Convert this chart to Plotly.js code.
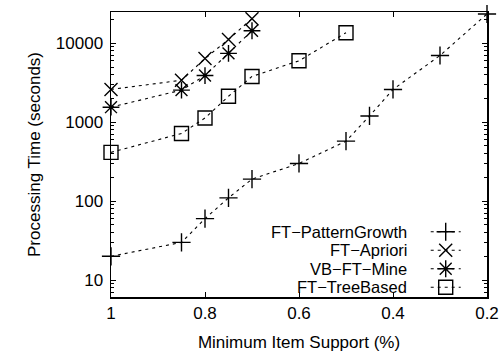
<!DOCTYPE html>
<html>
<head>
<meta charset="utf-8">
<script src="https://cdn.plot.ly/plotly-3.0.1.min.js"></script>
<style>html,body{margin:0;padding:0;background:#fff;}#chart{width:504px;height:353px;}</style>
</head>
<body>
<div id="chart"></div>
<script>
// Data
const seriesNames = ["FT\u2212PatternGrowth", "FT\u2212Apriori", "VB\u2212FT\u2212Mine", "FT\u2212TreeBased"];
const pgSupport = [1, 0.85, 0.8, 0.75, 0.7, 0.6, 0.5, 0.45, 0.4, 0.3, 0.2];
const patternGrowth = [20, 30, 60, 110, 190, 300, 575, 1200, 2600, 7000, 23500];
const apSupport = [1, 0.85, 0.8, 0.75, 0.7];
const apriori = [2600, 3400, 6400, 11200, 20500];
const vbSupport = [1, 0.85, 0.8, 0.75, 0.7];
const vbFtMine = [1550, 2550, 3900, 7450, 14400];
const tbSupport = [1, 0.85, 0.8, 0.75, 0.7, 0.6, 0.5];
const treeBased = [415, 720, 1130, 2130, 3800, 6000, 13600];
const xTicks = [1, 0.8, 0.6, 0.4, 0.2];
const xTickText = ["1", "0.8", "0.6", "0.4", "0.2"];

const FONT = "Liberation Sans, Arial, Helvetica, sans-serif";
const FS = 17;
const LFS = 16.5;
const symbols = ["cross-thin-open", "x-thin-open", "asterisk-open", "square-open"];
const sizes = [13, 13, 14, 14];
const xs = [pgSupport, apSupport, vbSupport, tbSupport];
const ys = [patternGrowth, apriori, vbFtMine, treeBased];
const legendIds = ["legend", "legend2", "legend3", "legend4"];
const legendY = [0.2289, 0.1640, 0.0991, 0.0342];

// minor tick positions on the log axis (2..9 of each decade)
const minorTicks = [];
for (let d = 1; d <= 10000; d *= 10) for (let k = 2; k <= 9; k++) minorTicks.push(k * d);

const traces = xs.map((x, i) => ({
  type: "scatter", mode: "lines+markers",
  x: x, y: ys[i], name: " ",
  hovertext: seriesNames[i],
  legend: legendIds[i],
  line: {color: "#000", width: 1.1, dash: "3px,4px"},
  marker: {symbol: symbols[i], size: sizes[i], color: "#000", line: {color: "#000", width: 1.4}},
  cliponaxis: false
}));

const annotations = seriesNames.map((t, i) => ({
  xref: "paper", yref: "paper", x: 0.79, y: legendY[i],
  xanchor: "right", yanchor: "middle", showarrow: false, borderpad: 0,
  text: t, font: {family: FONT, size: LFS, color: "#000"}
}));

const layout = {
  width: 504, height: 353,
  margin: {l: 111, r: 17, t: 12, b: 56},
  paper_bgcolor: "#fff", plot_bgcolor: "#fff",
  separators: ".",
  font: {family: FONT, size: FS, color: "#000"},
  showlegend: true,
  xaxis: {
    range: [1, 0.2], tickvals: xTicks, ticktext: xTickText,
    ticks: "inside", ticklen: 5, tickwidth: 1, tickcolor: "#000",
    showline: true, linecolor: "#000", linewidth: 1.5, mirror: "ticks",
    showgrid: false, zeroline: false,
    tickfont: {family: FONT, size: FS},
    title: {text: "Minimum Item Support (%)", font: {family: FONT, size: FS}, standoff: 14}
  },
  yaxis: {
    type: "log", range: [Math.log10(6.1), Math.log10(24900)],
    dtick: 1, exponentformat: "none",
    ticks: "inside", ticklen: 5, tickwidth: 1, tickcolor: "#000",
    ticklabelstandoff: 3,
    minor: {tickmode: "array", tickvals: minorTicks, ticks: "inside", ticklen: 3, tickwidth: 1, tickcolor: "#000", showgrid: false},
    showline: true, linecolor: "#000", linewidth: 1.5, mirror: "ticks",
    showgrid: false, zeroline: false,
    tickfont: {family: FONT, size: FS},
    title: {text: "Processing Time (seconds)", font: {family: FONT, size: FS}, standoff: 11}
  },
  annotations: annotations
};
legendIds.forEach((id, i) => {
  layout[id] = {
    x: 0.837, y: legendY[i], xanchor: "left", yanchor: "middle",
    bgcolor: "rgba(0,0,0,0)", borderwidth: 0,
    font: {family: FONT, size: 10}, itemwidth: 30
  };
});

Plotly.newPlot("chart", traces, layout, {staticPlot: true, displayModeBar: false});
</script>
</body>
</html>
